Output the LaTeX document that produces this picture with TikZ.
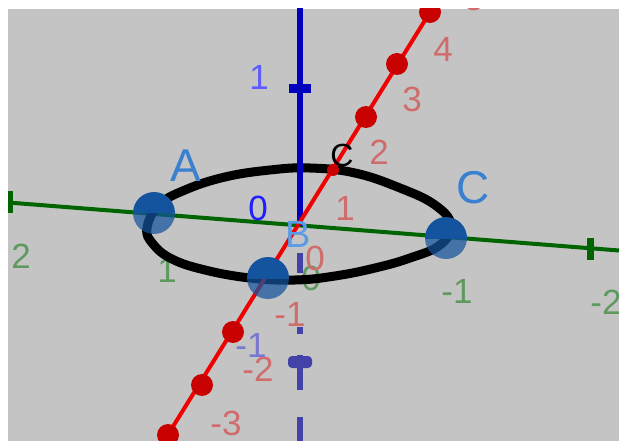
\documentclass[tikz,border=0pt]{standalone}
\usepackage{fontspec}
\setmainfont{Liberation Sans}
\usetikzlibrary{calc}
\definecolor{bg}{RGB}{196,196,196}
\definecolor{zaxis}{RGB}{0,0,190}
\definecolor{zdash}{RGB}{66,66,168}
\definecolor{xaxis}{RGB}{240,0,0}
\definecolor{xtick}{RGB}{200,0,0}
\definecolor{yaxis}{RGB}{0,100,0}
\definecolor{redlab}{RGB}{208,108,108}
\definecolor{greenlab}{RGB}{94,154,94}
\definecolor{bluelabA}{RGB}{92,92,255}
\definecolor{bluelabB}{RGB}{30,30,255}
\definecolor{bluelabC}{RGB}{120,120,208}
\definecolor{ptblue}{RGB}{20,84,158}
\definecolor{ptlab}{RGB}{58,128,208}
\definecolor{blab}{RGB}{90,154,230}
\tikzset{
  lab/.style={inner sep=0pt, anchor=center, font=\fontsize{35}{35}\selectfont},
  rlab/.style={lab, text=redlab},
  glab/.style={lab, text=greenlab},
  plab/.style={inner sep=0pt, anchor=center, text=ptlab, font=\fontsize{46}{46}\selectfont},
  rtick/.style={fill=xtick},
  ellipseline/.style={line width=9pt, black},
}
\newcommand{\ggpoint}[2]{%
  \coordinate (#1) at #2;
  \begin{scope}
    \clip ($(#1)+(-23,-23)$) rectangle ($(#1)+(23,0)$);
    \fill[ptblue] (#1) circle (21);
  \end{scope}
  \begin{scope}
    \clip ($(#1)+(-23,0)$) rectangle ($(#1)+(23,23)$);
    \fill[ptblue, opacity=0.72] (#1) circle (21);
  \end{scope}}
\begin{document}
\begin{tikzpicture}[x=1pt,y=-1pt]
\useasboundingbox (0,0) rectangle (619,441);
\fill[white] (0,0) rectangle (619,441);
\fill[bg] (8,9) rectangle (619,441);
\begin{scope}
\clip (8,9) rectangle (619,441);
% green axis
\coordinate (yL) at (8,202.5);
\coordinate (yR) at (619,250.5);
\draw[yaxis, line width=4pt] (yL) -- (yR);
\coordinate (yt2) at (10,202.5);
\coordinate (ytm2) at (590,248.5);
\draw[yaxis, line width=5pt] ($(yt2)+(0,-11)$) -- ($(yt2)+(0,11)$);
\draw[yaxis, line width=7pt] ($(ytm2)+(0,-11)$) -- ($(ytm2)+(0,11)$);
\node[glab] (g2) at (21,256) {2};
\node[glab] (g1) at (167,270) {1};
\node[glab] (g0) at (311,278) {0};
\node[glab] (gm1) at (457,291) {-1};
\node[glab] (gm2) at (606,302) {-2};
% lower z axis (dashed, behind)
\coordinate (zO) at (300,226);
\draw[zdash, line width=6pt] (300,253) -- (300,273);
\draw[zdash, line width=6pt] (300,327) -- (300,334);
\draw[zdash, line width=6pt] (300,355) -- (300,390);
\draw[zdash, line width=6pt] (300,417) -- (300,445);
\fill[zdash, rounded corners=4pt] (288,356) rectangle (312,368);
% ellipse
\draw[ellipseline] plot[smooth cycle, tension=0.7] coordinates {
 (147,228) (159,205) (185,190) (225,177) (270,170) (310,168) (355,173)
 (400,188) (435,205) (451,225) (440,245) (410,258) (375,268) (335,276)
 (295,280) (250,278) (205,270) (172,259) (153,244)};
% upper z axis
\coordinate (zTop) at (300,0);
\draw[zaxis, line width=6pt] (zTop) -- (zO);
\draw[zaxis, line width=9pt] (289,89) -- (311,89);
% red axis
\coordinate (xTop) at (437.6,0);
\coordinate (xBot) at (157.8,451);
\draw[xaxis, line width=4pt] (xTop) -- (xBot);
\foreach \p in {(430,12),(397,64),(366,117),(233,332),(202,385),(168,435)}
  \fill[rtick] \p circle (11);
\fill[rtick] (333,170) circle (6);
% points
\ggpoint{pA}{(154,213)}
\ggpoint{pC}{(446,238)}
\ggpoint{pD}{(268,278)}
% red labels
\node[rlab] (r5) at (474,-1) {5};
\node[rlab] (r4) at (443,49) {4};
\node[rlab] (r3) at (412,99) {3};
\node[rlab] (r2) at (379,152) {2};
\node[rlab] (r1) at (345,208) {1};
\node[rlab] (r0) at (315,258) {0};
\node[rlab] (rm1) at (290,314) {-1};
\node[rlab] (rm2) at (258,369) {-2};
\node[rlab] (rm3) at (226,423) {-3};
% blue labels
\node[lab, text=bluelabA] (b1) at (259,77) {1};
\node[lab, text=bluelabB] (b0) at (258,208) {0};
\node[lab, text=bluelabC] (bm1) at (251,345) {-1};
% point labels
\node[plab] (lA) at (186,166) {A};
\node[plab] (lC) at (473,188) {C};
\node[inner sep=0pt, text=blab, font=\fontsize{38}{38}\selectfont] (lB) at (298,234) {B};
\node[inner sep=0pt, text=black, font=\fontsize{32}{32}\selectfont] (lc2) at (342,155) {C};
\end{scope}
\end{tikzpicture}
\end{document}
